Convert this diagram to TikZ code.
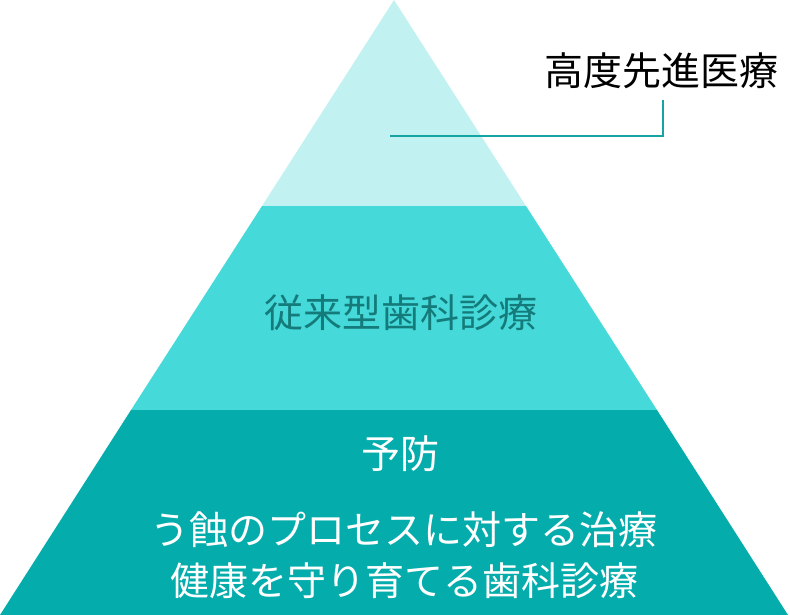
\documentclass[tikz,border=0pt]{standalone}
\usepackage{fontspec}
\setmainfont{Noto Sans CJK JP}
\definecolor{toplayer}{HTML}{C1F1F1}
\definecolor{midlayer}{HTML}{45D9D9}
\definecolor{baselayer}{HTML}{05ACAC}
\definecolor{leadline}{HTML}{16A3A3}
\definecolor{midtext}{HTML}{147A7A}
\tikzset{
  label/.style={anchor=base,inner sep=0pt,font=\fontsize{39}{51}\selectfont},
}
\begin{document}
\begin{tikzpicture}[x=1pt,y=-1pt]
  \useasboundingbox (0,0) rectangle (790,615);

  % 三层
  \fill[toplayer] (394,0) -- (526,206) -- (262,206) -- cycle;
  \fill[midlayer] (262,206) -- (526,206) -- (657,410) -- (131,410) -- cycle;
  \fill[baselayer] (131,410) -- (657,410) -- (788,615) -- (0,615) -- cycle;

  % 顶层标签
  \node[label] (advanced) at (661,86) {高度先進医療};
  \coordinate (leadstart) at (390,136);
  \coordinate (leadcorner) at (663,136);
  \coordinate (leadend) at (663,100);
  \draw[leadline,line width=2.5pt] (leadstart) -- (leadcorner) -- (leadend);

  % 中层
  \node[label,midtext] (conventional) at (401,327) {従来型歯科診療};

  % 底层
  \node[label,white] (prevention) at (400,468) {予防};
  \node[label,white] (caries) at (404,544) {う蝕のプロセスに対する治療};
  \node[label,white] (nurture) at (404,595) {健康を守り育てる歯科診療};
\end{tikzpicture}
\end{document}
